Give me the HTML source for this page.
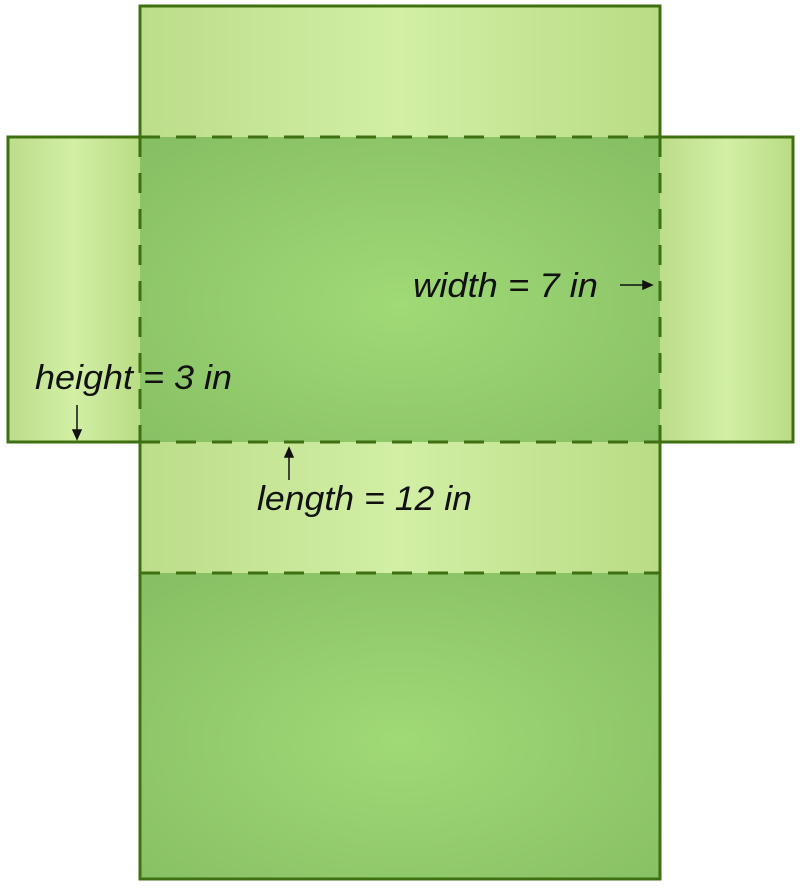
<!DOCTYPE html>
<html><head><meta charset="utf-8"><style>
html,body{margin:0;padding:0;background:#fff;}
svg{display:block;}
text{font-family:"Liberation Sans","DejaVu Sans",sans-serif;font-style:italic;font-size:34px;fill:#111;}
</style></head><body>
<svg width="800" height="886" viewBox="0 0 800 886">
<defs>
<linearGradient id="lg" x1="0" x2="1" y1="0" y2="0">
<stop offset="0" stop-color="#bcdd8a"/><stop offset="0.5" stop-color="#d2efa5"/><stop offset="1" stop-color="#b9dc85"/>
</linearGradient>
<radialGradient id="rg" cx="0.5" cy="0.55" r="0.7">
<stop offset="0" stop-color="#a0da76"/><stop offset="1" stop-color="#87bf64"/>
</radialGradient>
</defs>
<rect x="140" y="6" width="520" height="131" fill="url(#lg)"/>
<rect x="8" y="137" width="132" height="305" fill="url(#lg)"/>
<rect x="660" y="137" width="133" height="305" fill="url(#lg)"/>
<rect x="140" y="442" width="520" height="131" fill="url(#lg)"/>
<rect x="140" y="137" width="520" height="305" fill="url(#rg)"/>
<rect x="140" y="573" width="520" height="306" fill="url(#rg)"/>
<path d="M140,6 H660 V137 H793 V442 H660 V879 H140 V442 H8 V137 H140 Z" fill="none" stroke="#3e7012" stroke-width="3"/>
<g stroke="#3e7012" stroke-width="3" stroke-dasharray="20,16">
<line x1="140" y1="137" x2="660" y2="137"/>
<line x1="140" y1="442" x2="660" y2="442"/>
<line x1="140" y1="137" x2="140" y2="442"/>
<line x1="660" y1="137" x2="660" y2="442"/>
<line x1="140" y1="573" x2="660" y2="573"/>
</g>
<text x="413" y="297" textLength="185" lengthAdjust="spacingAndGlyphs">width = 7 in</text>
<text x="35" y="389" textLength="197" lengthAdjust="spacingAndGlyphs">height = 3 in</text>
<text x="257" y="510" textLength="215" lengthAdjust="spacingAndGlyphs">length = 12 in</text>
<g stroke="#111" stroke-width="1.5" fill="#111">
<line x1="620" y1="285" x2="645" y2="285"/><polygon points="652,285 643,281 643,289"/>
<line x1="77" y1="405" x2="77" y2="432"/><polygon points="77,439 73,430 81,430"/>
<line x1="289" y1="480" x2="289" y2="455"/><polygon points="289,448 285,457 293,457"/>
</g>
</svg>
</body></html>
